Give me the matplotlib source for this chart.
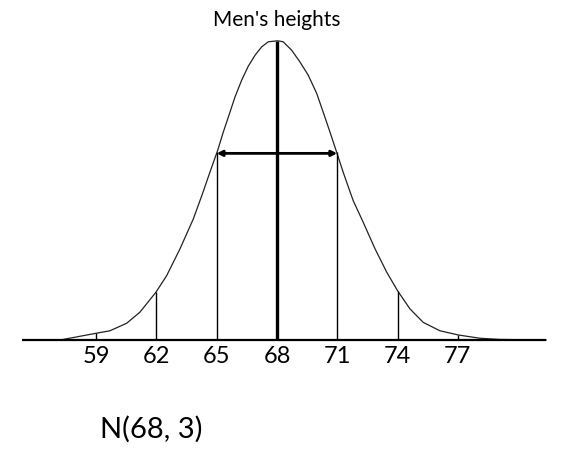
import matplotlib
matplotlib.use("Agg")
import matplotlib.pyplot as plt

# Curve points (height normalised to peak = 1)
curve_x = [55.4, 57.2, 58.95, 59.69, 60.52, 61.18, 61.98, 62.51, 63.17, 63.84,
           64.30, 64.67, 65.05, 65.33, 65.58, 65.91, 66.24, 66.57, 66.91, 67.24,
           67.57, 67.99, 68.06, 68.31, 68.73, 69.14, 69.56, 69.98, 70.30, 70.64,
           70.97, 71.30, 71.63, 71.80, 72.29, 72.88, 73.46, 74.00, 74.62, 75.28,
           76.11, 77.02, 78.10, 79.09, 81.4]
curve_y = [0.0, 0.0, 0.022, 0.031, 0.056, 0.093, 0.160, 0.215, 0.304, 0.405,
           0.490, 0.562, 0.634, 0.695, 0.745, 0.812, 0.868, 0.915, 0.952, 0.980,
           0.997, 1.0, 1.0, 0.997, 0.969, 0.930, 0.885, 0.824, 0.762, 0.695,
           0.628, 0.560, 0.497, 0.465, 0.394, 0.305, 0.227, 0.165, 0.104, 0.059,
           0.031, 0.017, 0.006, 0.002, 0.0]

tick_values = [59, 62, 65, 68, 71, 74, 77]
line_heights = [0.022, 0.160, 0.630, 1.0, 0.628, 0.165, 0.017]
arrow_left, arrow_right, arrow_height = 65, 71, 0.624
title = "Men's heights"
caption = "N(68, 3)"

plt.rcParams['font.family'] = ['Lato', 'DejaVu Sans']

fig = plt.figure(figsize=(5.75, 4.64), dpi=100)
ax = fig.add_axes([0, 0, 1, 1])
ax.set_xlim(54.22, 82.83)
ax.set_ylim(-0.411, 1.140)
ax.axis('off')

ax.plot(curve_x, curve_y, color='#222222', lw=0.9, solid_joinstyle='round')
ax.plot([55.3, 81.4], [0, 0], color='black', lw=1.6, solid_capstyle='butt')

for v, h in zip(tick_values, line_heights):
    lw = 2.4 if v == 68 else 1.0
    ax.plot([v, v], [0, h], color='black', lw=lw, solid_capstyle='butt')
    ax.text(v, -0.05, str(v), ha='center', va='center', fontsize=17)

ax.annotate('', xy=(arrow_left, arrow_height), xytext=(arrow_right, arrow_height),
            arrowprops=dict(arrowstyle='<|-|>', color='black', lw=2.0,
                            mutation_scale=8, shrinkA=0, shrinkB=0))

ax.text(68, 1.074, title, ha='center', va='center', fontsize=15)
ax.text(59.2, -0.294, caption, ha='left', va='center', fontsize=21)

fig.savefig('out.png', dpi=100)
